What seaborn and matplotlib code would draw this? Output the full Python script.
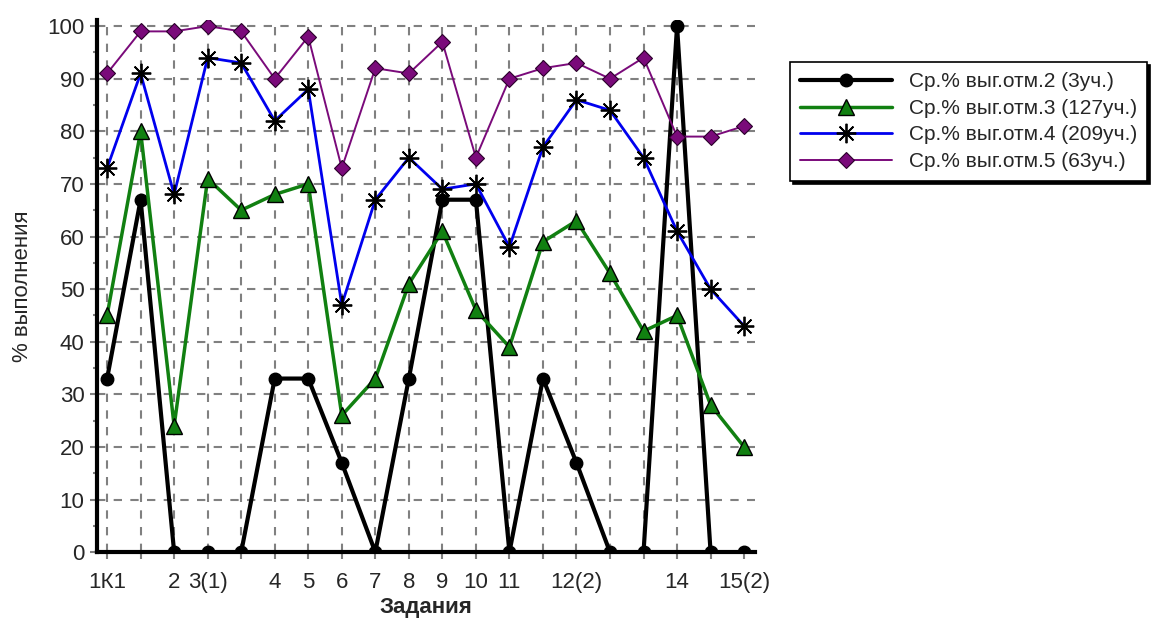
import numpy as np
import pandas as pd
import seaborn as sns
import matplotlib.pyplot as plt
from matplotlib.ticker import MultipleLocator

# Tasks (x axis), empty labels where the original shows none
tasks = ["1К1", "", "2", "3(1)", "", "4", "5", "6", "7", "8",
         "9", "10", "11", "", "12(2)", "", "", "14", "", "15(2)"]

grade2 = [33, 67, 0, 0, 0, 33, 33, 17, 0, 33, 67, 67, 0, 33, 17, 0, 0, 100, 0, 0]
grade3 = [45, 80, 24, 71, 65, 68, 70, 26, 33, 51, 61, 46, 39, 59, 63, 53, 42, 45, 28, 20]
grade4 = [73, 91, 68, 94, 93, 82, 88, 47, 67, 75, 69, 70, 58, 77, 86, 84, 75, 61, 50, 43]
grade5 = [91, 99, 99, 100, 99, 90, 98, 73, 92, 91, 97, 75, 90, 92, 93, 90, 94, 79, 79, 81]

labels = ["Ср.% выг.отм.2 (3уч.)", "Ср.% выг.отм.3 (127уч.)",
          "Ср.% выг.отм.4 (209уч.)", "Ср.% выг.отм.5 (63уч.)"]

sns.set_style("white")
plt.rcParams["font.family"] = ["Liberation Sans", "DejaVu Sans"]

fig = plt.figure(figsize=(11.69, 6.19), dpi=100)
ax = fig.add_axes([0.083, 0.108, 0.563, 0.86])

x = np.arange(len(tasks))

styles = [
    dict(color="black", lw=3, marker="o", ms=9, mfc="black", mec="black"),
    dict(color="#118011", lw=2.5, marker="^", ms=11, mfc="#118011", mec="black", mew=1),
    dict(color="#0000ee", lw=2, marker=(8, 2, 0), ms=14, mfc="black", mec="black", mew=1.3),
    dict(color="#7a0a7a", lw=1.4, marker="D", ms=8, mfc="#7a0a7a", mec="#2a002a", mew=0.8),
]
series = [grade2, grade3, grade4, grade5]

for vals, lab, st in zip(series, labels, styles):
    df = pd.DataFrame({"task": x, "value": vals})
    sns.lineplot(data=df, x="task", y="value", ax=ax, label=lab, sort=False,
                 color=st["color"], linewidth=st["lw"], marker=st["marker"],
                 markersize=st["ms"], markerfacecolor=st["mfc"],
                 markeredgecolor=st["mec"], markeredgewidth=st.get("mew", 1))

ax.set_xlim(-0.3, 19.33)
ax.set_ylim(0, 101.2)
ax.set_xticks(x)
ax.set_xticklabels(tasks)
ax.yaxis.set_major_locator(MultipleLocator(10))
ax.yaxis.set_minor_locator(MultipleLocator(5))

ax.grid(True, which="major", color="#808080", linestyle=(0, (4, 4)), linewidth=1.5)
# no vertical grid over the last two tasks in the original
for gl in ax.get_xgridlines()[18:]:
    gl.set_visible(False)

for s in ["top", "right"]:
    ax.spines[s].set_visible(False)
for s in ["left", "bottom"]:
    ax.spines[s].set_linewidth(3)
    ax.spines[s].set_color("black")

ax.tick_params(axis="both", which="major", length=5, width=1.5, color="#808080",
               labelsize=16, direction="out", left=True, bottom=True, pad=4)
ax.tick_params(axis="x", which="major", pad=9)
ax.tick_params(axis="y", which="minor", length=3, width=1.5, color="#808080", left=True)

ax.set_xlabel("Задания", fontsize=16, fontweight="bold", labelpad=3)
ax.set_ylabel("% выполнения", fontsize=16, labelpad=10)

leg = ax.legend(loc="upper left", bbox_to_anchor=(790 / 1169, 1 - 62 / 619),
                bbox_transform=fig.transFigure, frameon=True, fancybox=False,
                shadow={"color": "black", "alpha": 1}, edgecolor="black",
                fontsize=15, handlelength=4.4, borderpad=0.5, labelspacing=0.36,
                handletextpad=0.8, borderaxespad=0)
leg.get_frame().set_linewidth(1.2)

fig.savefig("out.png", dpi=100)
